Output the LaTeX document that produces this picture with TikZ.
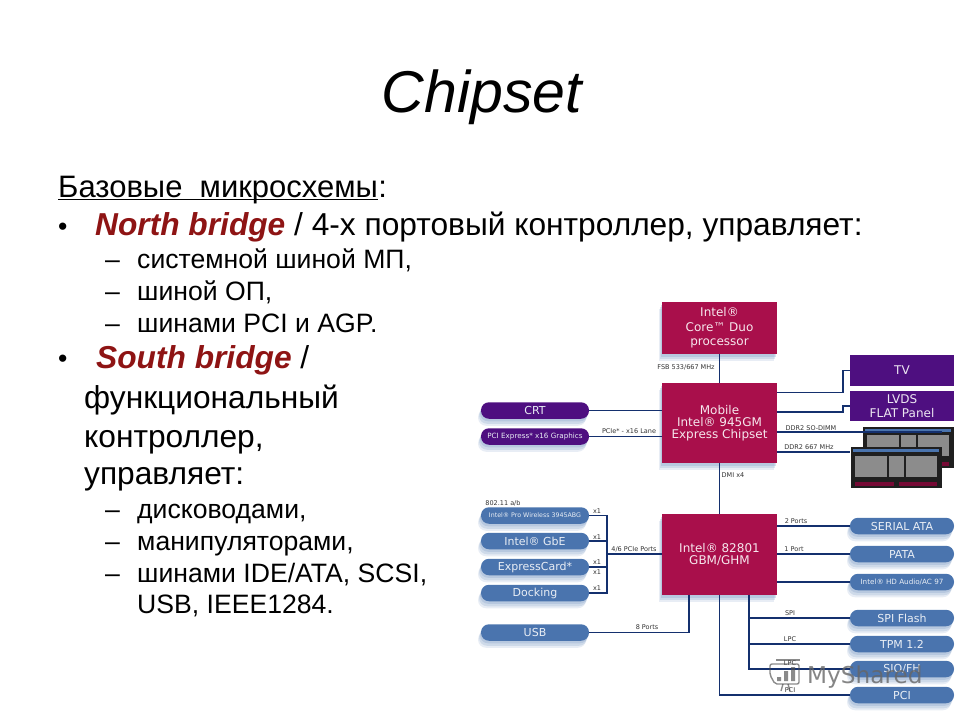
\documentclass[tikz,border=0pt]{standalone}
\usepackage{fontspec}
\setmainfont{Liberation Sans}
\newfontfamily\chipfont{DejaVu Sans}
\usetikzlibrary{shadows}
\definecolor{chipred}{HTML}{A90F4B}
\definecolor{chippurple}{HTML}{4E0F80}
\definecolor{chipblue}{HTML}{4A74AE}
\definecolor{busblue}{HTML}{14306E}
\definecolor{boldred}{HTML}{8E1414}
\newcommand{\fsz}[1]{\fontsize{#1}{#1}\selectfont}
\tikzset{
    boxshadow/.style={
        drop shadow={shadow xshift=-3pt,shadow yshift=-7pt,fill=chipblue!70,opacity=.18},
        drop shadow={shadow xshift=-2pt,shadow yshift=-5pt,fill=chipblue!70,opacity=.25},
        drop shadow={shadow xshift=-1pt,shadow yshift=-2.5pt,fill=chipblue!70,opacity=.3}},
    chip/.style={rectangle,fill=chipred,text=white!90!chipred,minimum width=115pt,inner sep=0pt,align=center,boxshadow,font=\chipfont\fsz{12}},
    panel/.style={rectangle,fill=chippurple,text=white!90!chippurple,minimum width=104pt,inner sep=0pt,align=center,font=\chipfont\fsz{12}},
    pillbox/.style={rectangle,rounded corners=8pt,minimum height=16.5pt,inner sep=0pt,text=white!88!chipblue,boxshadow,font=\chipfont\fsz{11}},
    leftpill/.style={pillbox,fill=chipblue,minimum width=108pt},
    rightpill/.style={pillbox,fill=chipblue,minimum width=104pt},
    purplepill/.style={pillbox,fill=chippurple,minimum width=108pt},
    bus/.style={draw=busblue,line width=1.6pt},
    buslabel/.style={inner sep=0pt,text=black!80,font=\chipfont\fsz{6.5}},
    slidetext/.style={anchor=base west,inner sep=0pt},
    big/.style={slidetext,font=\fsz{31.7}},
    small/.style={slidetext,font=\fsz{26.6}}
}
\begin{document}
\begin{tikzpicture}[x=1pt,y=-1pt]
    \useasboundingbox (0,0) rectangle (960,720);

    % slide text
    \node[inner sep=0pt,font=\fsz{59}\itshape] (title) at (482,97) {Chipset};
    \node[slidetext,font=\fsz{31}] (basic) at (58,197) {Базовые\hspace{.556em}микросхемы};
    \node[slidetext,font=\fsz{31}] (colon) at (basic.base east) {:};
    \draw[line width=1.3pt] ([yshift=-2.5pt]basic.base west) -- ([yshift=-2.5pt]basic.base east);
    \node[small] (dot1) at (58,235) {•};
    \node[big] (north) at (95,235) {\textcolor{boldred}{\bfseries\itshape North bridge} / 4-х портовый контроллер, управляет:};
    \node[small] (dash1) at (105,268) {–};
    \node[small] (sys) at (137,268) {системной шиной МП,};
    \node[small] (dash2) at (105,300) {–};
    \node[small] (mem) at (137,300) {шиной ОП,};
    \node[small] (dash3) at (105,332) {–};
    \node[small] (pcibus) at (137,332) {шинами PCI и AGP.};
    \node[small] (dot2) at (58,367) {•};
    \node[big] (south) at (96,368) {\textcolor{boldred}{\bfseries\itshape South bridge} /};
    \node[big] (func) at (84,408) {функциональный};
    \node[big] (ctrl) at (84,447) {контроллер,};
    \node[big] (manage) at (84,484) {управляет:};
    \node[small] (dash4) at (105,518) {–};
    \node[small] (disk) at (137,518) {дисководами,};
    \node[small] (dash5) at (105,550) {–};
    \node[small] (manip) at (137,550) {манипуляторами,};
    \node[small] (dash6) at (105,582) {–};
    \node[small] (ide) at (137,582) {шинами IDE/ATA, SCSI,};
    \node[small] (usbline) at (137,613) {USB, IEEE1284.};

    % chips
    \node[chip,minimum height=52pt] (cpu) at (719.5,328) {Intel®\\[2.5pt]Core™ Duo\\[2.5pt]processor};
    \node[chip,minimum height=80pt] (mch) at (719.5,423) {Mobile\\Intel® 945GM\\Express Chipset};
    \node[chip,minimum height=81pt] (ich) at (719.5,554.5) {Intel® 82801\\GBM/GHM};

    \node[panel,minimum height=31pt] (tv) at (902,370.5) {TV};
    \node[panel,minimum height=30pt] (lvds) at (902,406) {LVDS\\[2pt]FLAT Panel};

    \node[purplepill] (crt) at (535,410.5) {CRT};
    \node[purplepill,font=\chipfont\fsz{7.2}] (pcie) at (535,436.5) {PCI Express* x16 Graphics};

    \node[leftpill,font=\chipfont\fsz{6.3}] (wireless) at (535,515.5) {Intel® Pro Wireless 3945ABG};
    \node[leftpill] (gbe) at (535,541) {Intel® GbE};
    \node[leftpill] (express) at (535,567) {ExpressCard*};
    \node[leftpill] (docking) at (535,593) {Docking};
    \node[leftpill] (usb) at (535,632.5) {USB};

    \node[rightpill] (sata) at (902,526) {SERIAL ATA};
    \node[rightpill] (pata) at (902,554) {PATA};
    \node[rightpill,font=\chipfont\fsz{7.2}] (audio) at (902,582) {Intel® HD Audio/AC 97};
    \node[rightpill] (spi) at (902,618) {SPI Flash};
    \node[rightpill] (tpm) at (902,644) {TPM 1.2};
    \node[rightpill] (sio) at (902,669) {SIO/FH};
    \node[rightpill] (pci) at (902,695) {PCI};

    % memory sticks
    \foreach \name/\cx/\cy in {ramb/908/447,rama/896/467.5}{
        \node[rectangle,fill=black!88,minimum width=91pt,minimum height=41pt,inner sep=0pt] (\name) at (\cx,\cy) {};
        \fill[chipblue] (\cx-43,\cy-18.5) rectangle (\cx+43,\cy-15.5);
        \foreach \dx/\w in {-41/32,-7/15,10/31}
            \fill[black!45] (\cx+\dx,\cy-12) rectangle (\cx+\dx+\w,\cy+9);
        \fill[chipred!70!black] (\cx-41,\cy+14.5) rectangle (\cx-2,\cy+18.5);
        \fill[chipred!70!black] (\cx+3,\cy+14.5) rectangle (\cx+41,\cy+18.5);
    }

    % connectors
    \coordinate (tvbend) at (843,392.5);
    \coordinate (lvdsbend) at (843,412);
    \coordinate (pciejoin) at (607,554);
    \coordinate (usbjoin) at (689,632.5);
    \coordinate (lpcjoin) at (749,595);
    \draw[bus] (cpu) -- (mch);
    \draw[bus] (mch) -- (ich);
    \draw[bus] (tvbend -| mch.east) -- (tvbend) |- (tv.west);
    \draw[bus] (lvdsbend -| mch.east) -- (lvdsbend) |- (lvds.west);
    \draw[bus] (crt.east) -- (crt.east -| mch.west);
    \draw[bus] (pcie.east) -- (pcie.east -| mch.west);
    \draw[bus] ([yshift=-9pt]mch.east) -- ([yshift=-9pt]mch.east -| rama.east);
    \draw[bus] ([yshift=-29pt]mch.east) -- ([yshift=-29pt]mch.east -| rama.west);
    \foreach \from in {wireless,gbe,express,docking}
        \draw[bus] (\from.east) -| (pciejoin);
    \draw[bus] (pciejoin) -- (pciejoin -| ich.west);
    \draw[bus] (usb.east) -- (usbjoin) -- (usbjoin |- ich.south);
    \foreach \to in {sata,pata,audio}
        \draw[bus] (\to.west -| ich.east) -- (\to.west);
    \foreach \to in {spi,tpm,sio}
        \draw[bus] (lpcjoin) |- (\to.west);
    \draw[bus] (ich) |- (pci.west);

    % labels on the connectors
    \node[buslabel] (fsb) at (686,367) {FSB 533/667 MHz};
    \node[buslabel] (lane) at (629,431) {PCIe* - x16 Lane};
    \node[buslabel] (sodimm) at (811,428) {DDR2 SO-DIMM};
    \node[buslabel] (ddr) at (809,447) {DDR2 667 MHz};
    \node[buslabel] (dmi) at (733,475) {DMI x4};
    \node[buslabel] (wifi) at (503,503) {802.11 a/b};
    \node[buslabel] (xa) at (597,511) {x1};
    \node[buslabel] (xb) at (597,537) {x1};
    \node[buslabel] (xc) at (597,562) {x1};
    \node[buslabel] (xd) at (597,572) {x1};
    \node[buslabel] (xe) at (597,588) {x1};
    \node[buslabel] (ports) at (634,549) {4/6 PCIe Ports};
    \node[buslabel] (two) at (796,521) {2 Ports};
    \node[buslabel] (one) at (794,549) {1 Port};
    \node[buslabel] (eight) at (647,627) {8 Ports};
    \node[buslabel] (spil) at (790,613) {SPI};
    \node[buslabel] (lpca) at (790,639) {LPC};
    \node[buslabel] (lpcb) at (790,663) {LPC};
    \node[buslabel] (pcil) at (790,690) {PCI};

    % watermark
    \begin{scope}[opacity=.65,draw=black!70,line width=1.4pt]
        \draw[rounded corners=2pt] (770,664) -- (770,675) -- (775,684) -- (799,684) -- (799,664) -- cycle;
        \draw (776,660) -- (800,660);
        \fill[black!70] (777,677) rectangle (781,681) (784,671) rectangle (788,681) (791,667) rectangle (795,681);
        \draw (783,684) -- (781,691) (788,684) -- (790,691);
    \end{scope}
    \node[anchor=base west,inner sep=0pt,text=black!60,opacity=.8,font=\chipfont\fsz{23.2}] (mark) at (807,683) {MyShared};
\end{tikzpicture}
\end{document}
